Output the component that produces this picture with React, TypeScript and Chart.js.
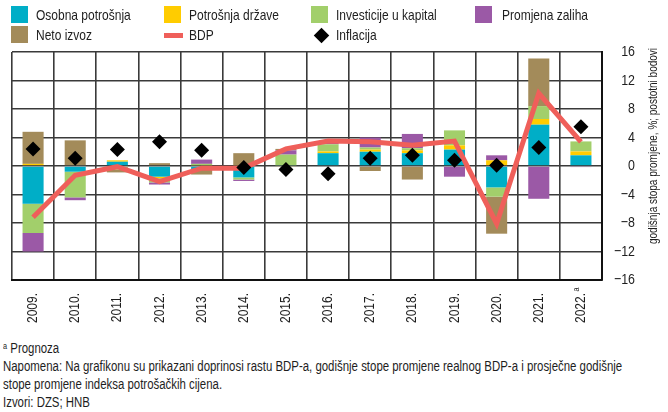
import React, { useEffect, useRef } from "react";
import { Chart, registerables } from "chart.js";
Chart.register(...registerables);

const categories = ["2009.", "2010.", "2011.", "2012.", "2013.", "2014.", "2015.", "2016.", "2017.", "2018.", "2019.", "2020.", "2021.", "2022."];
const categoryNotes = ["", "", "", "", "", "", "", "", "", "", "", "", "", "a"];
const osobnaPotrosnja = [-5.3, -0.8, 0.6, -1.5, -0.5, -1.6, 0.1, 1.8, 2.0, 1.8, 2.3, -3.0, 5.8, 1.5];
const potrosnjaDrzave = [0.3, 0.0, 0.2, -0.2, 0.1, 0.1, -0.1, 0.25, 0.3, 0.4, 0.6, 0.8, 0.8, 0.55];
const investicije = [-4.1, -3.6, -0.5, -0.6, 0.2, -0.3, 1.5, 1.0, 0.3, 0.3, 2.1, -1.3, 1.8, 1.4];
const promjenaZaliha = [-2.6, -0.4, 0.0, -0.3, 0.6, -0.2, 0.6, 0.4, 1.4, 2.0, -1.5, 0.7, -4.6, -0.15];
const netoIzvoz = [4.5, 3.6, -0.4, 0.4, -0.7, 1.7, 0.2, 0.0, -0.7, -1.9, 0.0, -5.2, 6.7, 0.0];
const bdp = [-7.2, -1.3, -0.1, -2.2, -0.3, -0.3, 2.4, 3.5, 3.4, 2.9, 3.5, -8.1, 10.2, 3.4];
const inflacija = [2.4, 1.1, 2.3, 3.4, 2.2, -0.2, -0.5, -1.1, 1.1, 1.5, 0.8, 0.1, 2.6, 5.5];
const yTickValues = [16, 12, 8, 4, 0, -4, -8, -12, -16];
const yMin = -16;
const yMax = 16;
const yStep = 4;

const yTitle = "godišnja stopa promjene, %; postotni bodovi";
const noteA = "Prognoza";
const noteLines = [
  "Napomena: Na grafikonu su prikazani doprinosi rastu BDP-a, godišnje stope promjene realnog BDP-a i prosječne godišnje",
  "stope promjene indeksa potrošačkih cijena.",
  "Izvori: DZS; HNB",
];

const C_OSOBNA = "#00AEC7";
const C_DRZAVA = "#FFCC00";
const C_INV = "#A2CF6B";
const C_ZALIHE = "#9B59A6";
const C_NETO = "#A38B5A";
const C_BDP = "#EF5F5A";
const C_INF = "#000000";
const C_TEXT = "#1e1e1e";
const C_GRID = "#3a3a3a";

const FONT = '"Liberation Sans", Arial, sans-serif';
const SQUEEZE = 0.8;

const labelsPlugin = {
  id: "customLabels",
  afterDraw(chart: any) {
    const ctx = chart.ctx;
    const xs = chart.scales.x;
    const ys = chart.scales.y;
    const area = chart.chartArea;
    ctx.save();
    ctx.fillStyle = C_TEXT;
    ctx.font = `15px ${FONT}`;
    categories.forEach((lab, i) => {
      const x = xs.getPixelForValue(i);
      ctx.save();
      ctx.translate(x, area.bottom + 13);
      ctx.rotate(-Math.PI / 2);
      ctx.scale(SQUEEZE, 1);
      ctx.textAlign = "right";
      ctx.textBaseline = "middle";
      ctx.fillText(lab, 0, 0);
      if (categoryNotes[i]) {
        ctx.font = `9px ${FONT}`;
        ctx.textAlign = "left";
        ctx.fillText(categoryNotes[i], 2, -4);
      }
      ctx.restore();
    });
    ctx.font = `15.5px ${FONT}`;
    yTickValues.forEach((v) => {
      const y = ys.getPixelForValue(v);
      const s = v < 0 ? "\u2212" + Math.abs(v) : String(v);
      ctx.save();
      ctx.translate(635, y);
      ctx.scale(SQUEEZE, 1);
      ctx.textAlign = "right";
      ctx.textBaseline = "middle";
      ctx.fillText(s, 0, 0);
      ctx.restore();
    });
    ctx.save();
    ctx.translate(653, 146);
    ctx.rotate(-Math.PI / 2);
    ctx.scale(0.74, 1);
    ctx.font = `13.5px ${FONT}`;
    ctx.textAlign = "center";
    ctx.textBaseline = "middle";
    ctx.fillText(yTitle, 0, 0);
    ctx.restore();
    ctx.restore();
  },
};

export default function App() {
  const ref = useRef<HTMLCanvasElement | null>(null);

  useEffect(() => {
    document.body.style.margin = "0";
    if (!ref.current) return;
    const bar = (label: string, data: number[], color: string) => ({
      type: "bar" as const,
      label,
      data,
      backgroundColor: color,
      borderWidth: 0,
      stack: "contrib",
      order: 3,
      barPercentage: 0.5,
      categoryPercentage: 1,
    });
    const chart = new Chart(ref.current, {
      type: "bar",
      data: {
        labels: categories,
        datasets: [
          bar("Osobna potrošnja", osobnaPotrosnja, C_OSOBNA),
          bar("Potrošnja države", potrosnjaDrzave, C_DRZAVA),
          bar("Investicije u kapital", investicije, C_INV),
          bar("Promjena zaliha", promjenaZaliha, C_ZALIHE),
          bar("Neto izvoz", netoIzvoz, C_NETO),
          {
            type: "line",
            label: "BDP",
            data: bdp,
            stack: "bdp",
            borderColor: C_BDP,
            backgroundColor: C_BDP,
            borderWidth: 5,
            pointRadius: 0,
            tension: 0,
            order: 2,
          } as any,
          {
            type: "line",
            label: "Inflacija",
            data: inflacija,
            stack: "inf",
            showLine: false,
            pointStyle: "rectRot",
            pointRadius: 7.5,
            backgroundColor: C_INF,
            borderColor: C_INF,
            borderWidth: 0,
            order: 1,
          } as any,
        ],
      },
      options: {
        responsive: false,
        maintainAspectRatio: false,
        animation: false,
        layout: { padding: { top: 52, left: 12, right: 0, bottom: 0 } },
        plugins: { legend: { display: false }, tooltip: { enabled: false }, title: { display: false } },
        scales: {
          x: {
            stacked: true,
            offset: true,
            grid: { offset: true, color: C_GRID, lineWidth: 1.6, drawTicks: false },
            border: { display: true, color: "#111", width: 2 },
            ticks: { display: false, autoSkip: false },
            afterFit(scale: any) {
              scale.height = 56;
            },
          },
          y: {
            stacked: true,
            position: "right",
            min: yMin,
            max: yMax,
            grid: { color: C_GRID, lineWidth: 1.6, drawTicks: false },
            border: { display: true, color: "#111", width: 2 },
            ticks: { display: false, stepSize: yStep },
            afterFit(scale: any) {
              scale.width = 66;
            },
          },
        },
      } as any,
      plugins: [labelsPlugin],
    });
    return () => chart.destroy();
  }, []);

  const textStyle: React.CSSProperties = {
    position: "absolute",
    fontFamily: FONT,
    fontSize: 15,
    color: C_TEXT,
    lineHeight: "18px",
    whiteSpace: "nowrap",
    transform: `scaleX(${SQUEEZE})`,
    transformOrigin: "left center",
  };
  const box = (x: number, y: number, c: string) => (
    <div style={{ position: "absolute", left: x, top: y, width: 17, height: 17, background: c }} />
  );
  const txt = (x: number, y: number, s: string) => (
    <div style={{ ...textStyle, left: x, top: y }}>{s}</div>
  );

  return (
    <div style={{ position: "relative", width: 668, height: 412, background: "#fff", overflow: "hidden" }}>
      <canvas ref={ref} width={668} height={336} style={{ position: "absolute", left: 0, top: 0, width: 668, height: 336 }} />
      {box(11, 6, C_OSOBNA)}
      {txt(36, 6, "Osobna potrošnja")}
      {box(164, 6, C_DRZAVA)}
      {txt(189, 6, "Potrošnja države")}
      {box(311, 6, C_INV)}
      {txt(336, 6, "Investicije u kapital")}
      {box(475, 6, C_ZALIHE)}
      {txt(502, 6, "Promjena zaliha")}
      {box(11, 26, C_NETO)}
      {txt(36, 26, "Neto izvoz")}
      <div style={{ position: "absolute", left: 164, top: 33, width: 19, height: 5, background: C_BDP }} />
      {txt(189, 26, "BDP")}
      <div style={{ position: "absolute", left: 316, top: 30, width: 11, height: 11, background: C_INF, transform: "rotate(45deg)" }} />
      {txt(336, 26, "Inflacija")}
      <div
        style={{
          position: "absolute",
          left: 3,
          top: 337,
          fontFamily: FONT,
          fontSize: 14,
          color: C_TEXT,
          lineHeight: "18px",
          whiteSpace: "nowrap",
          transform: "scaleX(0.816)",
          transformOrigin: "left top",
        }}
      >
        <div>
          <sup style={{ fontSize: 9, verticalAlign: "4px" }}>a</sup> {noteA}
        </div>
        {noteLines.map((l, i) => (
          <div key={i}>{l}</div>
        ))}
      </div>
    </div>
  );
}
